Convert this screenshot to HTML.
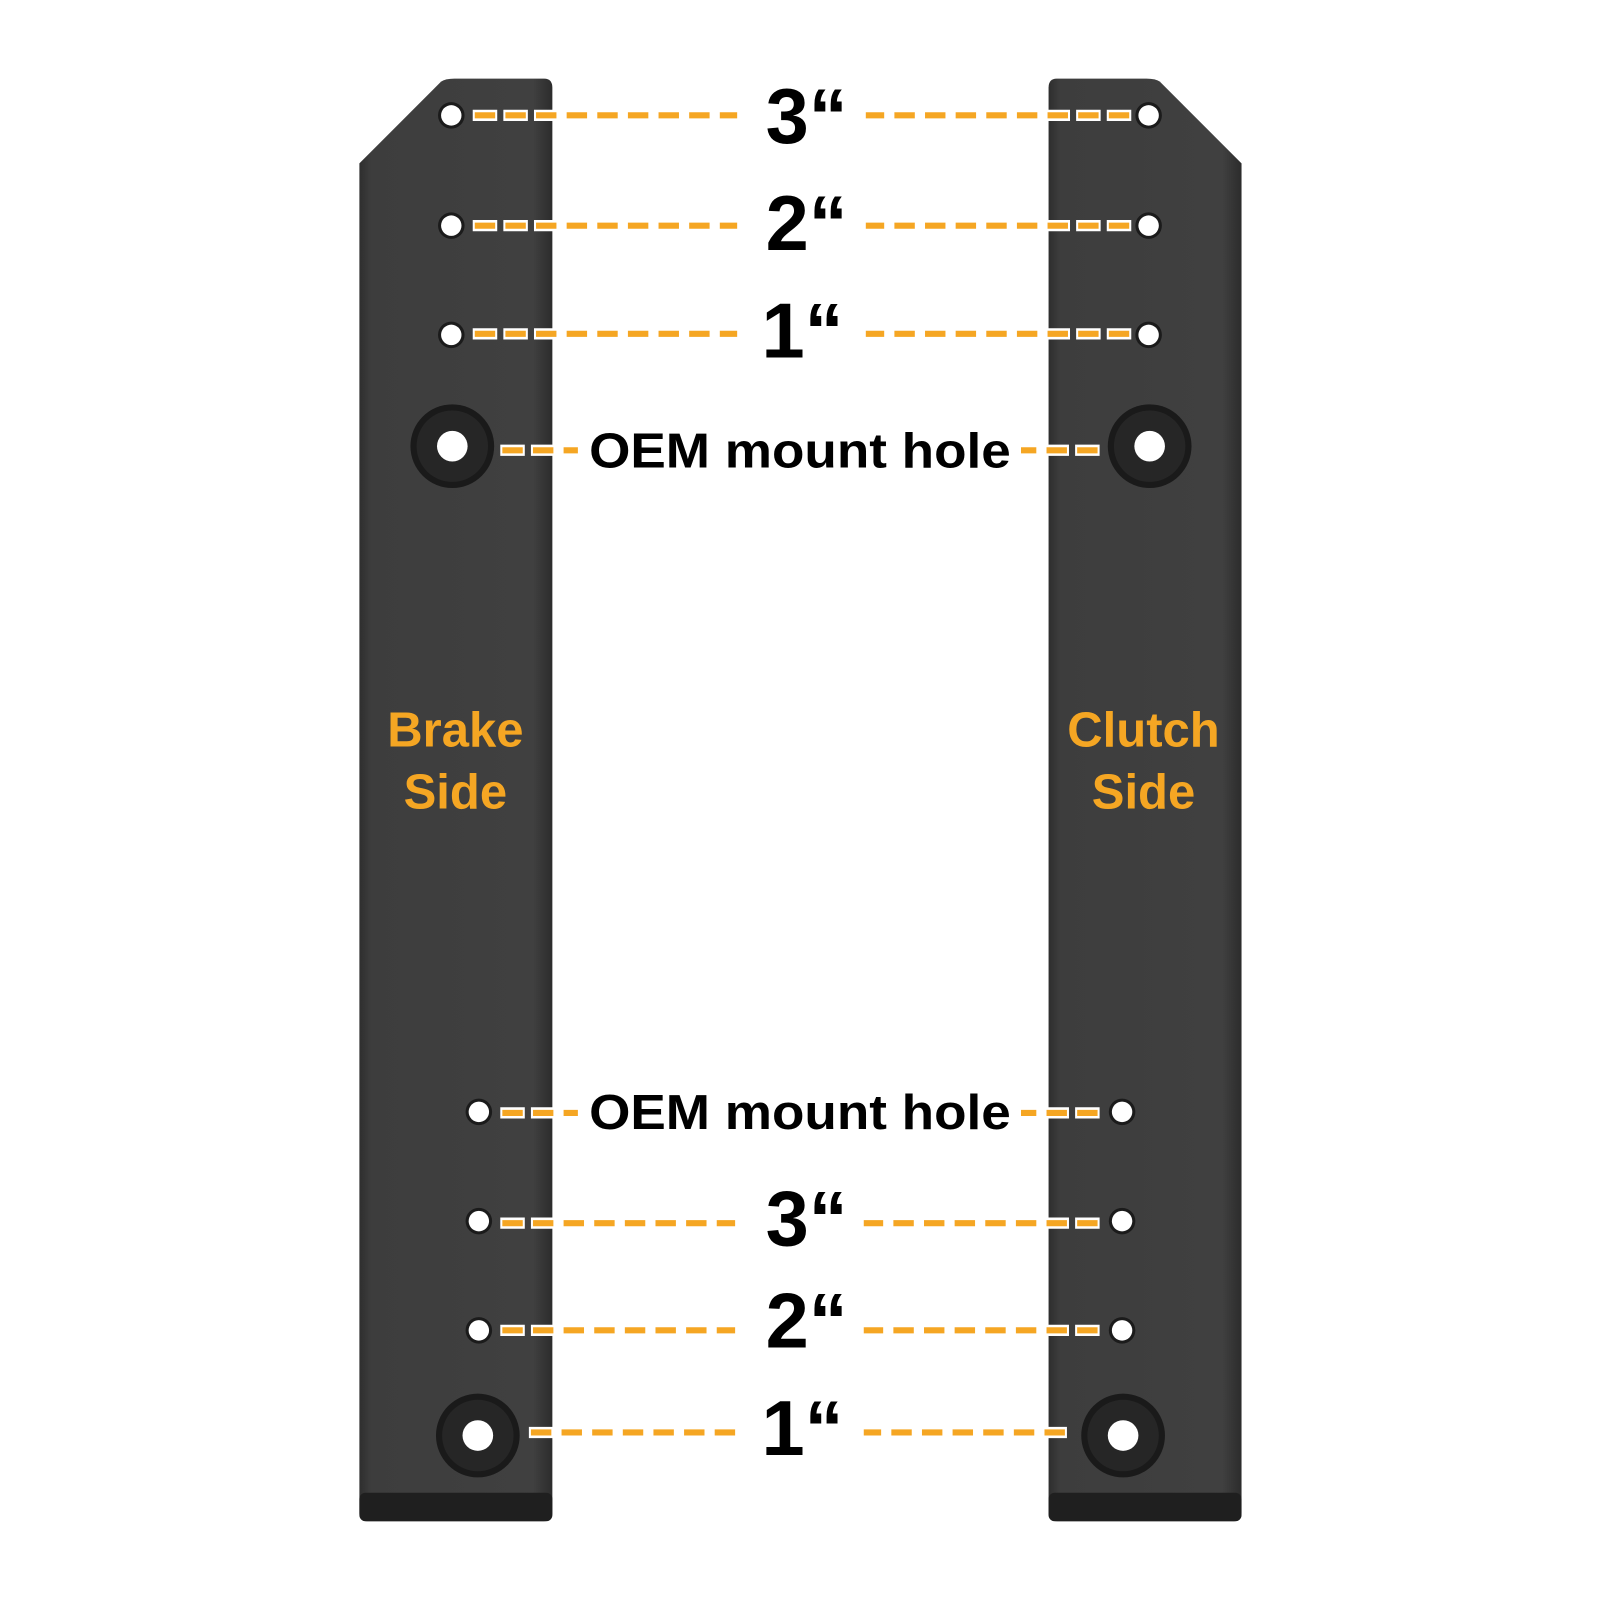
<!DOCTYPE html>
<html><head><meta charset="utf-8"><style>
html,body{margin:0;padding:0;background:#fff;}
svg{display:block}
text{font-family:"Liberation Sans",sans-serif;font-weight:bold}
</style></head><body>
<svg width="1601" height="1601" viewBox="0 0 1601 1601" xmlns="http://www.w3.org/2000/svg">
<defs>
<linearGradient id="g" x1="0" x2="1" y1="0" y2="0">
<stop offset="0" stop-color="#2e2e2e"/><stop offset="0.06" stop-color="#3d3d3d"/><stop offset="0.9" stop-color="#404040"/><stop offset="1" stop-color="#2c2c2c"/>
</linearGradient>
<g id="sh"><circle r="13" fill="#1b1b1b"/><circle r="10" fill="#fff"/></g>
<g id="bh"><circle r="41" fill="#1a1a1a"/><circle r="35" fill="#262626"/><circle r="15" fill="#fff"/></g>
</defs>
<g transform="scale(1.021)">
<path d="M352,160 L432,80 Q436,77 445,77 L533,77 Q541,77 541,86 L541,1482 Q541,1490 532,1490 L360,1490 Q352,1490 352,1482 Z" fill="url(#g)"/>
<rect x="352" y="1462" width="189" height="28" rx="6" fill="#1f1f1f"/>
<path d="M1216,160 L1136,80 Q1132,77 1123,77 L1035,77 Q1027,77 1027,86 L1027,1482 Q1027,1490 1036,1490 L1208,1490 Q1216,1490 1216,1482 Z" fill="url(#g)"/>
<rect x="1027" y="1462" width="189" height="28" rx="6" fill="#1f1f1f"/>

<use href="#sh" x="442" y="113"/><use href="#sh" x="442" y="221"/><use href="#sh" x="442" y="328"/>
<use href="#bh" x="443" y="437"/>
<use href="#sh" x="469" y="1089"/><use href="#sh" x="469" y="1196"/><use href="#sh" x="469" y="1303"/>
<use href="#bh" x="468" y="1406"/>
<use href="#sh" x="1125" y="113"/><use href="#sh" x="1125" y="221"/><use href="#sh" x="1125" y="328"/>
<use href="#bh" x="1126" y="437"/>
<use href="#sh" x="1099" y="1089"/><use href="#sh" x="1099" y="1196"/><use href="#sh" x="1099" y="1303"/>
<use href="#bh" x="1100" y="1406"/>

<g fill="none">
<g stroke="#fff" stroke-width="11" stroke-dasharray="24 6">
<path d="M463,113H722 M463,221H722 M463,327H722 M490,441H566 M490,1090H566 M490,1198H720 M490,1303H720 M518,1403H720"/>
<path d="M1108,113H848 M1108,221H848 M1108,327H848 M1077,441H1000 M1077,1090H1000 M1077,1198H846 M1077,1303H846 M1045,1403H846"/>
</g>
<g stroke="#f5a623" stroke-width="6" stroke-dasharray="20 10" stroke-dashoffset="-2">
<path d="M463,113H722 M463,221H722 M463,327H722 M490,441H566 M490,1090H566 M490,1198H720 M490,1303H720 M518,1403H720"/>
<path d="M1108,113H848 M1108,221H848 M1108,327H848 M1077,441H1000 M1077,1090H1000 M1077,1198H846 M1077,1303H846 M1045,1403H846"/>
</g>
</g>

<g font-size="76" fill="#000" text-anchor="middle">
<text x="790" y="140">3“</text>
<text x="790" y="245">2“</text>
<text x="786" y="350">1“</text>
<text x="790" y="1220">3“</text>
<text x="790" y="1320">2“</text>
<text x="786" y="1425">1“</text>
</g>
<g font-size="48" fill="#000">
<text x="577" y="458" textLength="413" lengthAdjust="spacingAndGlyphs">OEM mount hole</text>
<text x="577" y="1106" textLength="413" lengthAdjust="spacingAndGlyphs">OEM mount hole</text>
</g>
<g font-size="48" fill="#f5a623" text-anchor="middle">
<text x="446" y="731">Brake</text><text x="446" y="792">Side</text>
<text x="1120" y="731">Clutch</text><text x="1120" y="792">Side</text>
</g>
</g>
</svg>
</body></html>
